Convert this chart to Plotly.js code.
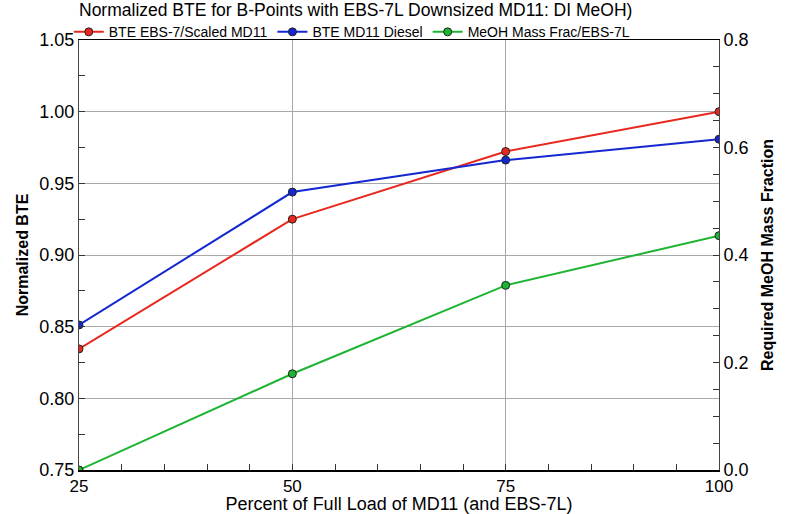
<!DOCTYPE html>
<html>
<head>
<meta charset="utf-8">
<script src="https://cdn.plot.ly/plotly-3.0.1.min.js"></script>
<style>html,body{margin:0;padding:0;background:#fff;}#chart{width:793px;height:514px;}</style>
</head>
<body>
<div id="chart"></div>
<script>
const loadPct = [25, 50, 75, 100];
const bteEBS = [0.8345, 0.925, 0.9722, 1.000];
const bteMD11 = [0.8512, 0.9439, 0.9662, 0.9808];
const meohFrac = [0.000, 0.179, 0.3435, 0.436];
const seriesNames = ["BTE EBS-7/Scaled MD11", "BTE MD11 Diesel", "MeOH Mass Frac/EBS-7L"];

const FONT = "Liberation Sans, Arial, sans-serif";
function mk(color){ return {size: 8, color: color, line: {color: "#222", width: 1}}; }

const traces = [
  {x: loadPct, y: bteEBS, name: seriesNames[0], mode: "lines+markers",
   line: {color: "#e8281e", width: 2}, marker: mk("#e8281e")},
  {x: loadPct, y: bteMD11, name: seriesNames[1], mode: "lines+markers",
   line: {color: "#1428d2", width: 2}, marker: mk("#1428d2")},
  {x: loadPct, y: meohFrac, name: seriesNames[2], mode: "lines+markers", yaxis: "y2",
   line: {color: "#1eb432", width: 2}, marker: mk("#1eb432")}
];

const layout = {
  width: 793, height: 514,
  margin: {l: 79, r: 74, t: 40, b: 44, autoexpand: false},
  paper_bgcolor: "#fff", plot_bgcolor: "#fff",
  font: {family: FONT, color: "#000", size: 17},
  title: {text: "Normalized BTE for B-Points with EBS-7L Downsized MD11: DI MeOH)",
          x: 0, xref: "paper", xanchor: "left", y: 0.981, yanchor: "middle", font: {size: 17.5, family: FONT}},
  showlegend: true,
  legend: {orientation: "h", x: -0.016, xanchor: "left", y: 1.018, yanchor: "middle",
           font: {size: 14, family: FONT}, itemwidth: 30, tracegroupgap: 0,
           bgcolor: "rgba(0,0,0,0)", borderwidth: 0},
  xaxis: {tickmode: "linear", tick0: 25, dtick: 25, range: [25, 100], showline: true, linecolor: "#000", linewidth: 1.5,
          mirror: true, showgrid: true, gridcolor: "#a8a8a8", gridwidth: 1, zeroline: false,
          ticks: "inside", ticklen: 6, tickcolor: "#333", tickfont: {size: 17},
          minor: {dtick: 5, ticks: "inside", ticklen: 6, tickcolor: "#333", tickwidth: 1, showgrid: false},
          title: {text: "Percent of Full Load of MD11 (and EBS-7L)", font: {size: 18}, standoff: 0}},
  yaxis: {range: [0.75, 1.05], dtick: 0.05, tickformat: ".2f", showline: true, linecolor: "#444", linewidth: 1,
          showgrid: true, gridcolor: "#a8a8a8", gridwidth: 1, zeroline: false,
          ticks: "inside", ticklen: 6, tickcolor: "#333", tickfont: {size: 18},
          minor: {dtick: 0.025, ticks: "inside", ticklen: 6, tickcolor: "#333", tickwidth: 1, showgrid: false},
          title: {text: "<b>Normalized BTE</b>", font: {size: 16}, standoff: 6}},
  yaxis2: {overlaying: "y", side: "right", range: [0, 0.8], dtick: 0.2, tickformat: ".1f",
           showline: true, linecolor: "#444", linewidth: 1, showgrid: false, zeroline: false,
           ticks: "inside", ticklen: 6, tickcolor: "#333", tickfont: {size: 18},
           minor: {dtick: 0.05, ticks: "inside", ticklen: 6, tickcolor: "#333", tickwidth: 1, showgrid: false},
           title: {text: "<b>Required MeOH Mass Fraction</b>", font: {size: 16}, standoff: 14}}
};

Plotly.newPlot("chart", traces, layout, {displayModeBar: false, staticPlot: true});
</script>
</body>
</html>
